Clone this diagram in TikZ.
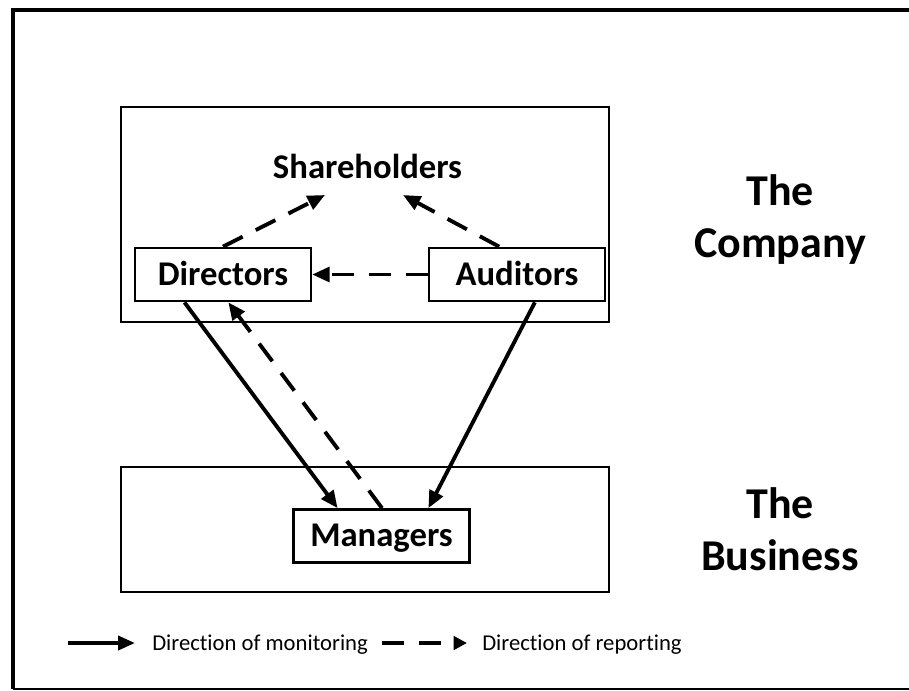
\documentclass[tikz,border=0pt]{standalone}
\usepackage{fontspec}
\setmainfont{Carlito}[Ligatures=NoCommon]
\usetikzlibrary{arrows.meta,calc}

\begin{document}
\begin{tikzpicture}[x=0.75pt,y=-0.75pt,
  box/.style={draw,line width=1.8pt,minimum width=132pt,minimum height=40pt,inner sep=0pt,
    text height=16pt,text depth=0pt,font=\fontsize{26}{30}\selectfont\bfseries},
  heading/.style={inner sep=0pt,font=\fontsize{26}{30}\selectfont\bfseries},
  sidelabel/.style={inner sep=0pt,align=center,font=\fontsize{33}{39}\selectfont\bfseries},
  legendtext/.style={inner sep=0pt,font=\fontsize{17}{20}\selectfont},
  monitor/.style={line width=2.9pt,-{Triangle[length=13pt,width=11pt]}},
  report/.style={monitor,dash pattern=on 16.5pt off 11pt}]
  \useasboundingbox (0,0) rectangle (909,690);
  % frame
  \draw[line width=3.5pt] (909,10) -- (13,10) -- (13,689);
  \draw[line width=1.5pt] (13,689) -- (909,689);
  % company and business
  \draw[line width=2pt] (121,107) rectangle (609,322);
  \draw[line width=2pt] (121,467) rectangle (609,592);
  \node[sidelabel] (company) at (780,220) {The\\Company};
  \node[sidelabel] (business) at (780,529) {The\\Business};
  % people
  \node[heading,anchor=base] (sh) at (367.5,178) {Shareholders};
  \node[box] (dir) at (223,274.5) {Directors};
  \node[box] (aud) at (517,274.5) {Auditors};
  \node[box] (man) at (381.5,536) {Managers};
  \coordinate (shl) at ($(sh.base)+(-42.5,17)$);
  \coordinate (shr) at ($(sh.base)+(35.5,17)$);
  % reporting
  \draw[report] (dir.north) -- (shl);
  \draw[report] ($(aud.north west)!0.40!(aud.north east)$) -- (shr);
  \draw[report] (aud.west) -- (dir.east);
  \draw[report] ($(man.north west)!0.503!(man.north east)$) -- ($(dir.south west)!0.53!(dir.south east)$);
  % monitoring
  \draw[monitor] ($(dir.south west)!0.284!(dir.south east)$) -- ($(man.north west)!0.254!(man.north east)$);
  \draw[monitor] ($(aud.south west)!0.60!(aud.south east)$) -- ($(man.north west)!0.763!(man.north east)$);
  % legend
  \coordinate (m1) at (68,643);
  \coordinate (m2) at (135,643);
  \node[legendtext,anchor=base west] (mtext) at (152,650.5) {Direction of monitoring};
  \coordinate (r1) at (382,643);
  \coordinate (r2) at (467,643);
  \node[legendtext,anchor=base west] (rtext) at (482,650.5) {Direction of reporting};
  \draw[monitor,-{Triangle[length=12.75pt,width=10.5pt]}] (m1) -- (m2);
  \draw[report,-{Triangle[length=10pt,width=10pt]}] (r1) -- (r2);
\end{tikzpicture}
\end{document}
